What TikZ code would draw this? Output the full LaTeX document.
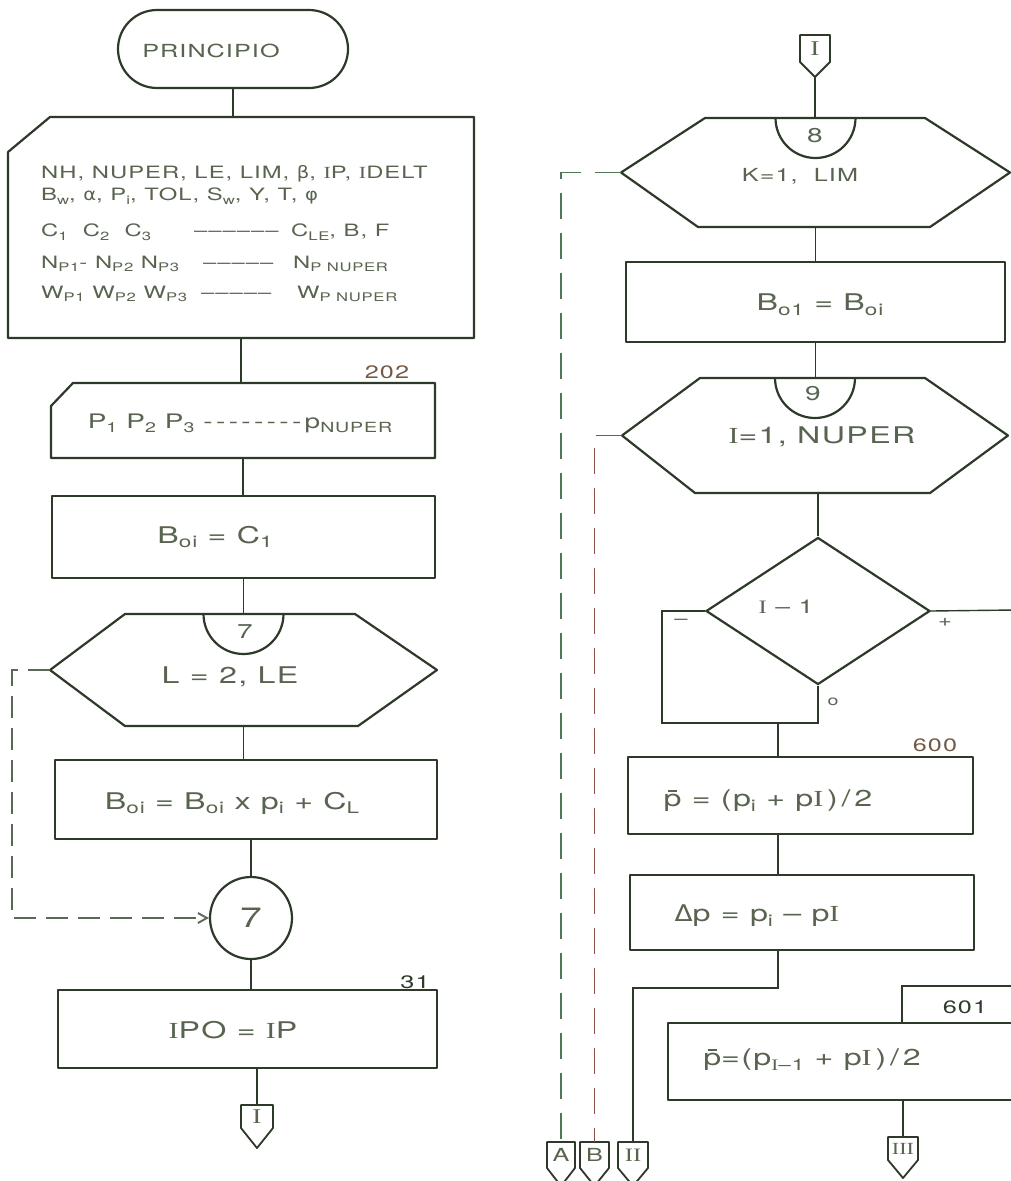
\documentclass[tikz,border=0pt]{standalone}
\usepackage{fontspec}
\usepackage{graphicx}
\setmainfont{TeX Gyre Heros}[FakeStretch=1.4,LetterSpace=6]
\newfontfamily\serifI{Liberation Serif}[FakeStretch=1.3]
\newfontfamily\grk{DejaVu Sans}[FakeStretch=1.15]
\usetikzlibrary{shapes.geometric,arrows.meta,calc}
\definecolor{linec}{RGB}{45,58,42}
\definecolor{textc}{RGB}{88,100,80}
\definecolor{numc}{RGB}{115,88,68}
\definecolor{dlc}{RGB}{90,105,85}
\definecolor{dac}{RGB}{80,120,85}
\definecolor{dbc}{RGB}{140,80,72}
\newcommand\lsub[1]{\raisebox{-0.4ex}{\scalebox{0.7}{#1}}}
\newcommand\SI{{\serifI I}}
\newcommand\pbar{p\llap{\rule[1.25ex]{0.38em}{0.07em}\hspace{0.2em}}}
\tikzset{
  shp/.style={draw=linec, line width=2.2pt, line join=round},
  boxnode/.style={shp, inner sep=0pt, outer sep=0pt},
  ghost/.style={inner sep=0pt, outer sep=0pt},
  conn/.style={draw=linec, line width=1.4pt},
  txt/.style={text=textc, inner sep=1pt, font=\fontsize{23}{26}\selectfont},
  intxt/.style={text=textc, inner sep=1pt, anchor=west, font=\fontsize{17}{20}\selectfont},
  small/.style={text=textc, inner sep=1pt, font=\fontsize{17}{20}\selectfont},
  numlab/.style={text=numc, inner sep=1pt, font=\fontsize{18}{20}\selectfont},
  opc/.style={ghost, text=textc, font=\fontsize{21}{22}\selectfont},
  dashL/.style={draw=dlc, line width=1.9pt, dash pattern=on 22pt off 10pt},
  dashA/.style={draw=dac, line width=1.9pt, dash pattern=on 26pt off 14pt},
  dashB/.style={draw=dbc, line width=1.9pt, dash pattern=on 26pt off 14pt},
}
\begin{document}
\begin{tikzpicture}[x=1pt,y=-1pt]
\useasboundingbox[fill=white] (0,0) rectangle (1010,1181);

% ---------------- left column ----------------
\node[boxnode, rounded corners=39pt, minimum width=230, minimum height=78] (start) at (233,49) {};
\node[txt, font=\fontsize{18}{20}\selectfont] (startt) at (211,51) {PRINCIPIO};

\node[ghost, minimum width=466, minimum height=221] (inp) at (241,227.5) {};
\draw[shp] ([xshift=42pt]inp.north west) -- (inp.north east) -- (inp.south east) -- (inp.south west) -- ([yshift=-35pt]inp.north west) -- cycle;
\node[intxt] (l1) at (40,174) {NH, NUPER, LE, LIM, {\grk β}, \SI P, \SI DELT};
\node[intxt] (l2) at (40,196) {B\lsub{w}, {\grk α}, P\lsub{i}, TOL, S\lsub{w}, Y, T, {\grk φ}};
\node[intxt] (l3a) at (40,232) {C\lsub{1}\ \ C\lsub{2}\ \ C\lsub{3}};
\node[intxt] (l3b) at (193,234) {––––––};
\node[intxt] (l3c) at (290,232) {C\lsub{LE}, B, F};
\node[intxt] (l4a) at (40,264) {N\lsub{P1}- N\lsub{P2} N\lsub{P3}};
\node[intxt] (l4b) at (202,266) {–––––};
\node[intxt] (l4c) at (292,264) {N\lsub{P NUPER}};
\node[intxt] (l5a) at (40,294) {W\lsub{P1} W\lsub{P2} W\lsub{P3}};
\node[intxt] (l5b) at (200,296) {–––––};
\node[intxt] (l5c) at (296,294) {W\lsub{P NUPER}};

\node[numlab] (lab202) at (387,372) {202};
\node[ghost, minimum width=384, minimum height=75] (card2) at (243,420.5) {};
\draw[shp] ([xshift=22pt]card2.north west) -- (card2.north east) -- (card2.south east) -- (card2.south west) -- ([yshift=-23pt]card2.north west) -- cycle;
\node[txt, font=\fontsize{20}{22}\selectfont] (card2t) at (240,423) {P\lsub{1} P\lsub{2} P\lsub{3} -\,-\,-\,-\,-\,-\,-\,-\,p\lsub{NUPER}};

\node[boxnode, minimum width=383, minimum height=82] (box1) at (243.5,537) {};
\node[txt] (box1t) at (215,537) {B\lsub{oi} = C\lsub{1}};

\node[ghost, minimum width=387, minimum height=112] (hex7) at (243.5,670) {};
\draw[shp] (hex7.west) -- ([xshift=75pt]hex7.north west) -- ([xshift=-82pt]hex7.north east) -- (hex7.east) -- ([xshift=-79pt]hex7.south east) -- ([xshift=75pt]hex7.south west) -- cycle;
\draw[shp] ([xshift=-40pt]hex7.north) arc[start angle=180, end angle=360, radius=40pt];
\node[small, font=\fontsize{20}{22}\selectfont] (hex7n) at (245,632) {7};
\node[txt] (hex7t) at (230,677) {L = 2, LE};

\node[boxnode, minimum width=382, minimum height=79] (box2) at (246,799.5) {};
\node[txt] (box2t) at (232,803) {B\lsub{oi} = B\lsub{oi} x p\lsub{i} + C\lsub{L}};

\node[circle, draw=linec, line width=2.2pt, minimum size=82pt, inner sep=0pt, text=textc, font=\fontsize{28}{30}\selectfont] (circ7) at (251,918) {7};

\node[text=linec, inner sep=1pt, font=\fontsize{18}{20}\selectfont] (lab31) at (415,982) {31};
\node[boxnode, minimum width=379, minimum height=78] (box3) at (247.5,1029) {};
\node[txt] (box3t) at (233,1030) {\SI PO = \SI P};

\node[opc, minimum width=32, minimum height=23] (cI1) at (257,1116.5) {\SI};
\draw[shp, line width=1.8pt] (cI1.north west) -- (cI1.north east) -- (cI1.south east) -- ([yshift=-20pt]cI1.south) -- (cI1.south west) -- cycle;

% left connectors
\draw[conn] (start.south) -- (start.south |- inp.north);
\draw[conn] (inp.south) -- (inp.south |- card2.north);
\draw[conn] (card2.south) -- (card2.south |- box1.north);
\draw[conn] (box1.south) -- (box1.south |- hex7.north);
\draw[conn] (hex7.south) -- (hex7.south |- box2.north);
\draw[conn] (circ7.north |- box2.south) -- (circ7.north);
\draw[conn] (circ7.south) -- (circ7.south |- box3.north);
\draw[conn] (cI1.north |- box3.south) -- (cI1.north);
\draw[dashL, -{Straight Barb[length=9pt,width=10pt]}] (hex7.west) -- ++(-38,0) |- (circ7.west);

% ---------------- right column ----------------
\node[opc, minimum width=30, minimum height=27] (cI2) at (815,48.5) {\SI};
\draw[shp, line width=1.8pt] (cI2.north west) -- (cI2.north east) -- (cI2.south east) -- ([yshift=-15pt]cI2.south) coordinate (cI2tip) -- (cI2.south west) -- cycle;

\node[ghost, minimum width=389, minimum height=109] (hex8) at (815.5,172.5) {};
\draw[shp] (hex8.west) -- ([xshift=84pt]hex8.north west) -- ([xshift=-85pt]hex8.north east) -- (hex8.east) -- ([xshift=-80pt]hex8.south east) -- ([xshift=77pt]hex8.south west) -- cycle;
\draw[shp] ([xshift=-40pt]hex8.north) arc[start angle=180, end angle=360, radius=40pt];
\node[small, font=\fontsize{20}{22}\selectfont] (hex8n) at (815,136) {8};
\node[txt, font=\fontsize{18}{21}\selectfont] (hex8t) at (800,176) {K=1, \ LIM};

\node[boxnode, minimum width=379, minimum height=80] (box4) at (815.5,302) {};
\node[txt] (box4t) at (820,305) {B\lsub{o1} = B\lsub{oi}};

\node[ghost, minimum width=386, minimum height=115] (hex9) at (815,435.5) {};
\draw[shp] (hex9.west) -- ([xshift=78pt]hex9.north west) -- ([xshift=-83pt]hex9.north east) -- (hex9.east) -- ([xshift=-78pt]hex9.south east) -- ([xshift=73pt]hex9.south west) -- cycle;
\draw[shp] ([xshift=-40pt]hex9.north) arc[start angle=180, end angle=360, radius=40pt];
\node[small, font=\fontsize{20}{22}\selectfont] (hex9n) at (813,394) {9};
\node[txt] (hex9t) at (822,437) {\SI=1, NUPER};

\node[diamond, draw=linec, line width=2.2pt, minimum width=224pt, minimum height=147pt, inner sep=0pt] (dia) at (818,611) {};
\node[txt, font=\fontsize{19}{22}\selectfont] (diat) at (786,607) {\SI\ – 1};
\node[small] (minus) at (681,622) {–};
\node[small] (plus) at (945,622) {+};
\node[small, font=\fontsize{14}{16}\selectfont] (zero) at (833,702) {o};

\node[numlab] (lab600) at (935,745) {600};
\node[boxnode, minimum width=345, minimum height=77] (box600) at (800.5,795.5) {};
\node[txt] (box600t) at (768,801) {\pbar\ = (p\lsub{i} + p\SI\,)\,/\,2};

\node[boxnode, minimum width=344, minimum height=75] (boxdp) at (802,912.5) {};
\node[txt] (boxdpt) at (757,916) {{\grk Δ}p = p\lsub{i} – p\SI};

\node[text=linec, inner sep=1pt, font=\fontsize{18}{20}\selectfont] (lab601) at (965,1007) {601};
\node[boxnode, minimum width=362, minimum height=77] (box601) at (849,1061.5) {};
\node[txt] (box601t) at (812,1060) {\pbar=(p\lsub{\SI–1} + p\SI\,)\,/\,2};

\node[opc, minimum width=28, minimum height=26, font=\fontsize{18}{20}\selectfont] (cA) at (561,1155) {A};
\node[opc, minimum width=29, minimum height=26, font=\fontsize{18}{20}\selectfont] (cB) at (594.5,1155) {B};
\node[opc, minimum width=30, minimum height=26, font=\fontsize{19}{20}\selectfont] (cII) at (633,1155) {\SI\SI};
\node[opc, minimum width=30, minimum height=23, font=\fontsize{17}{20}\selectfont] (cIII) at (903,1148.5) {\SI\SI\SI};
\foreach \c in {cA,cB,cII,cIII}
  \draw[shp, line width=1.8pt] (\c.north west) -- (\c.north east) -- (\c.south east) -- ([yshift=-18pt]\c.south) -- (\c.south west) -- cycle;

% right connectors
\draw[conn] (cI2tip) -- (cI2tip |- hex8.north);
\draw[conn] (hex8.south) -- (hex8.south |- box4.north);
\draw[conn] (box4.south) -- (box4.south |- hex9.north);
\draw[conn] (dia.north |- hex9.south) -- (dia.north);
\coordinate (jb) at ($(dia.south)+(0,37.5)$);
\coordinate (j1) at ($(jb)+(-40,0)$);
\draw[conn] (dia.west) -- ++(-43,0) |- (jb) -- (dia.south);
\draw[conn] (j1) -- (j1 |- box600.north);
\draw[conn] (j1 |- box600.south) -- (j1 |- boxdp.north);
\draw[conn] (j1 |- boxdp.south) -- ++(0,38) -| (cII.north);
\coordinate (rOut) at (1015,610);
\draw[conn] (dia.east) -- (rOut);
\coordinate (rIn) at (1015,986);
\coordinate (j601) at (902,986);
\draw[conn] (rIn) -- (j601) -- (j601 |- box601.north);
\draw[conn] (cIII.north |- box601.south) -- (cIII.north);
\draw[dashA] (hex8.west) -| (cA.north);
\draw[dashB] (hex9.west) -| (cB.north);
\end{tikzpicture}
\end{document}
